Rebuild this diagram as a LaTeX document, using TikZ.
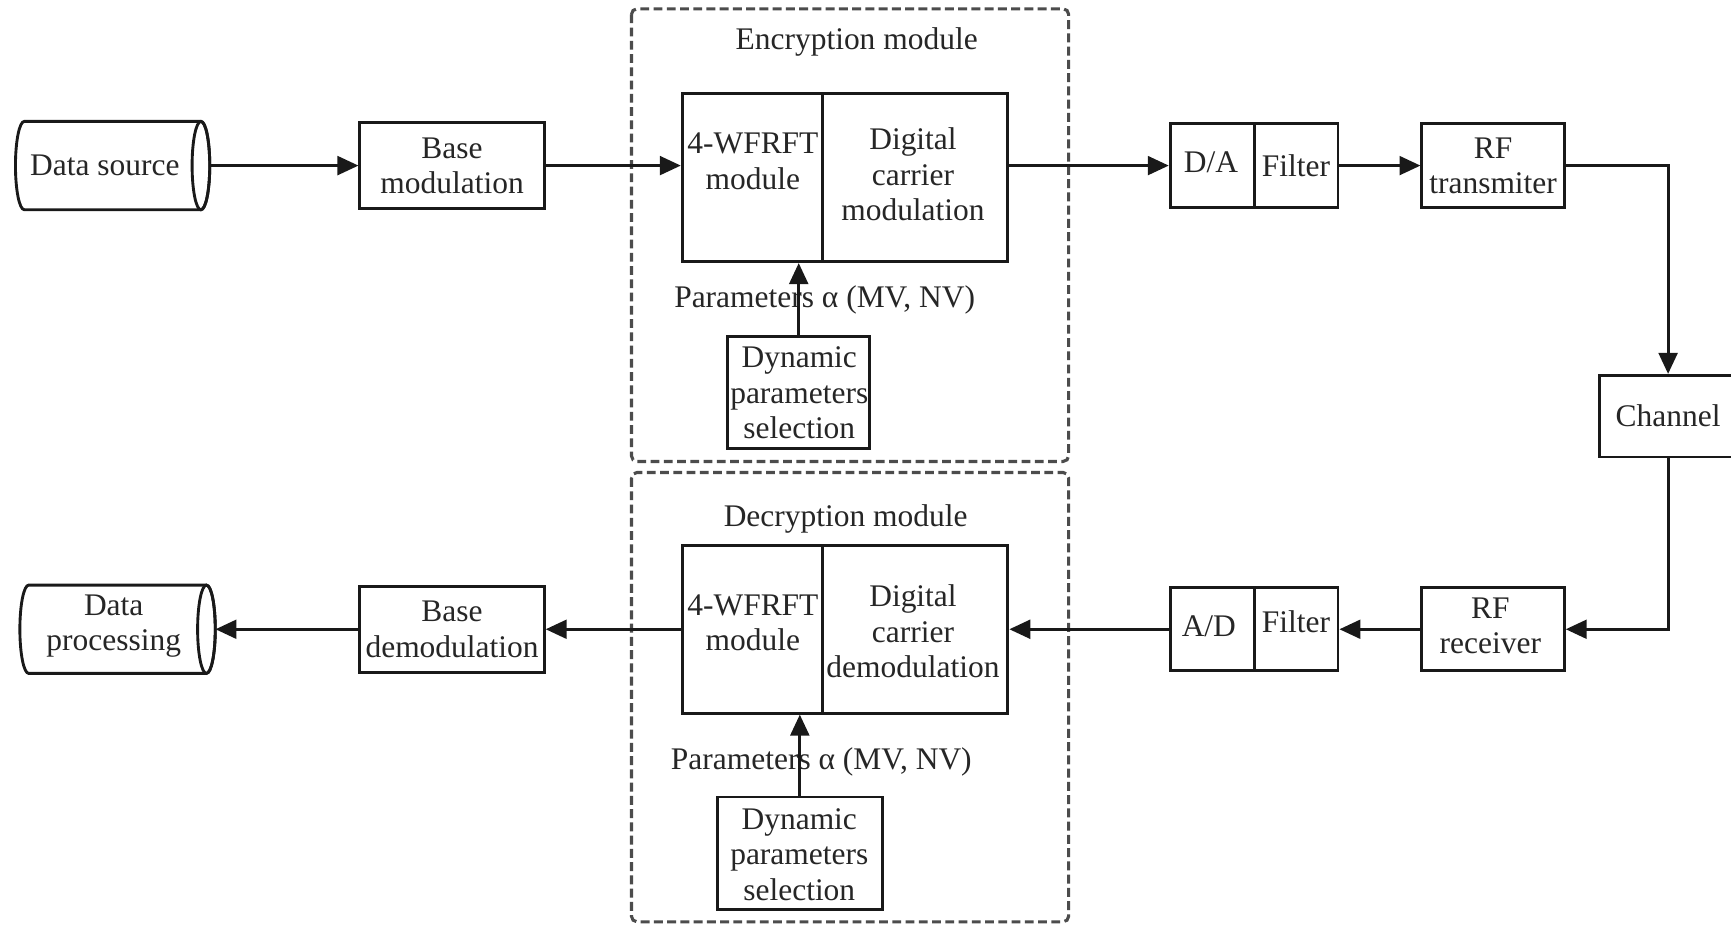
\documentclass[tikz,border=0pt]{standalone}
\usepackage{fontspec}
\setmainfont{Liberation Serif}
\usetikzlibrary{arrows.meta}
\newcommand\fsz{\fontsize{28.5}{32}\selectfont}
\tikzset{
 blk/.style={draw=black!90, line width=2.6pt, align=center, inner sep=0pt, font=\fsz, text=black!85},
 txt/.style={align=center, inner sep=0pt, font=\fsz, text=black!85},
 grp/.style={draw=black!70, line width=2.8pt, dash pattern=on 8pt off 4pt, rounded corners=5pt},
 arr/.style={line width=2.6pt, draw=black!90, -{Triangle[length=19pt,width=17pt]}},
 ln/.style={line width=2.6pt, draw=black!90}
}
\begin{document}
\begin{tikzpicture}[x=1pt,y=-1pt]
\useasboundingbox (0,0) rectangle (1568,842);
\clip (0,0) rectangle (1568,842);
\fill[white] (0,0) rectangle (1568,842);

% groups
\draw[grp] (572,8) rectangle (968,418);
\draw[grp] (572,428) rectangle (968,835);
\node[txt] (enclab) at (776,38) {Encryption module};
\node[txt] (declab) at (766,470) {Decryption module};

% data source cylinder
\node[minimum width=176pt, minimum height=80pt, inner sep=0pt] (ds) at (102,150) {};
\draw[ln] (22,110) -- (182,110) arc[start angle=90,end angle=-90,x radius=8pt,y radius=40pt]
  -- (22,190) arc[start angle=270,end angle=90,x radius=8pt,y radius=40pt] -- cycle;
\draw[ln] (182,150) ellipse[x radius=8pt, y radius=40pt];
\node[txt] (dstxt) at (95,150) {Data source};

% data processing cylinder
\node[minimum width=177pt, minimum height=80pt, inner sep=0pt] (dp) at (106.5,570) {};
\draw[ln] (26,530) -- (187,530) arc[start angle=90,end angle=-90,x radius=8pt,y radius=40pt]
  -- (26,610) arc[start angle=270,end angle=90,x radius=8pt,y radius=40pt] -- cycle;
\draw[ln] (187,570) ellipse[x radius=8pt, y radius=40pt];
\node[txt] (dptxt) at (103,567) {Data\\processing};

% top row
\node[blk, minimum width=167pt, minimum height=78pt] (bm) at (409.5,150) {Base\\modulation};
\node[blk, minimum width=127pt, minimum height=152pt] (e4) at (681.5,161) {};
\node[blk, minimum width=168pt, minimum height=152pt] (edc) at (829,161) {};
\node[txt] (e4t) at (682,146) {4-WFRFT\\module};
\node[txt] (edct) at (827,158) {Digital\\carrier\\modulation};
\node[blk, minimum width=129pt, minimum height=101pt] (edp) at (723.5,355.5) {};
\node[txt] (edpt) at (724,356) {Dynamic\\parameters\\selection};
\node[txt] (epar) at (747,272) {Parameters α (MV, NV)};

\node[blk, minimum width=76pt, minimum height=76pt] (da) at (1098,150) {};
\node[txt] at (1097,147) {D/A};
\node[blk, minimum width=76pt, minimum height=76pt] (fl) at (1174,150) {Filter};
\node[blk, minimum width=129pt, minimum height=76pt] (rft) at (1352.5,150) {RF\\transmiter};
\node[blk, minimum width=124pt, minimum height=74pt] (ch) at (1511,377) {Channel};

% bottom row
\node[blk, minimum width=129pt, minimum height=75pt] (rfr) at (1352.5,570) {};
\node[txt] at (1350,567) {RF\\receiver};
\node[blk, minimum width=76pt, minimum height=75pt] (ad) at (1098,570) {};
\node[txt] at (1095,567) {A/D};
\node[blk, minimum width=76pt, minimum height=75pt] (fl2) at (1174,570) {};
\node[txt] at (1174,563) {Filter};
\node[blk, minimum width=127pt, minimum height=152pt] (d4) at (681.5,570) {};
\node[blk, minimum width=168pt, minimum height=152pt] (ddc) at (829,570) {};
\node[txt] (d4t) at (682,564) {4-WFRFT\\module};
\node[txt] (ddct) at (827,572) {Digital\\carrier\\demodulation};
\node[blk, minimum width=149pt, minimum height=102pt] (ddp) at (724.5,773) {};
\node[txt] (ddpt) at (724,774) {Dynamic\\parameters\\selection};
\node[txt] (dpar) at (744,690) {Parameters α (MV, NV)};
\node[blk, minimum width=167pt, minimum height=78pt] (bd) at (409.5,570) {Base\\demodulation};

% connectors top
\draw[arr] (ds.east) -- (bm.west);
\draw[arr] (bm.east) -- (bm.east -| e4.west);
\draw[arr] (edp.north) -- (edp.north |- e4.south);
\draw[arr] (edc.east |- da.west) -- (da.west);
\draw[arr] (fl.east) -- (rft.west);
\draw[arr] (rft.east) -| (ch.north);

% connectors bottom
\draw[arr] (ch.south) |- (rfr.east);
\draw[arr] (rfr.west) -- (fl2.east);
\draw[arr] (ad.west) -- (ddc.east);
\draw[arr] (ddp.north) -- (ddp.north |- d4.south);
\draw[arr] (d4.west) -- (bd.east);
\draw[arr] (bd.west) -- (dp.east);
\end{tikzpicture}
\end{document}
